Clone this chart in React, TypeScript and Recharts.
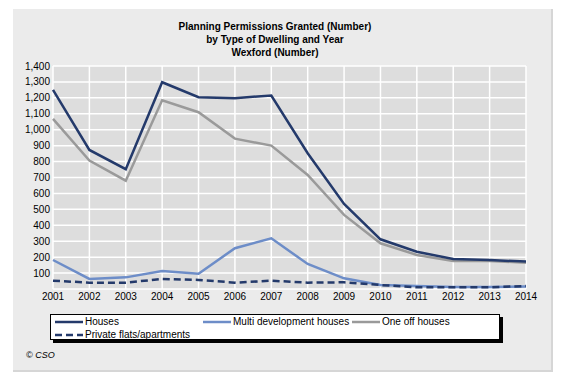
import React from "react";
import { LineChart, Line, XAxis, YAxis, CartesianGrid, Legend } from "recharts";

const years = [2001, 2002, 2003, 2004, 2005, 2006, 2007, 2008, 2009, 2010, 2011, 2012, 2013, 2014];
const houses = [1250, 873, 752, 1298, 1204, 1198, 1215, 852, 534, 312, 234, 188, 182, 172];
const multiDev = [182, 63, 73, 113, 96, 256, 318, 157, 67, 25, 19, 13, 13, 15];
const oneOff = [1068, 806, 680, 1185, 1110, 944, 900, 716, 465, 287, 214, 176, 176, 165];
const privateFlats = [52, 40, 40, 63, 57, 40, 52, 40, 42, 25, 11, 11, 11, 19];
const yTicks = [100, 200, 300, 400, 500, 600, 700, 800, 900, 1000, 1100, 1200, 1300, 1400];
const titleLines = [
  "Planning Permissions Granted (Number)",
  "by Type of Dwelling and Year",
  "Wexford (Number)",
];

const series = [
  { key: "houses", name: "Houses", color: "#243a6b", dash: undefined as string | undefined },
  { key: "multi", name: "Multi development houses", color: "#6d8dc8", dash: undefined },
  { key: "oneOff", name: "One off houses", color: "#9a9a9a", dash: undefined },
  { key: "private", name: "Private flats/apartments", color: "#243a6b", dash: "7 4" },
];

const data = years.map((y, i) => ({
  year: y,
  houses: houses[i],
  multi: multiDev[i],
  oneOff: oneOff[i],
  private: privateFlats[i],
}));

const FONT = "'Liberation Sans', Arial, sans-serif";

const legendPos: Record<string, { left: number; top: number }> = {
  houses: { left: 4, top: 1 },
  multi: { left: 152, top: 1 },
  oneOff: { left: 301, top: 1 },
  private: { left: 4, top: 14 },
};

const LegendBox = () => (
  <div
    style={{
      position: "relative",
      width: 450,
      height: 26,
      background: "#ffffff",
      border: "1px solid #000",
      boxShadow: "3px 3px 0 #000",
      boxSizing: "border-box",
      fontFamily: FONT,
      fontSize: 10,
      color: "#000",
      textAlign: "left",
    }}
  >
    {series.map((s) => (
      <div
        key={s.key}
        style={{
          position: "absolute",
          left: legendPos[s.key].left,
          top: legendPos[s.key].top,
          height: 12,
          display: "flex",
          alignItems: "center",
          whiteSpace: "nowrap",
        }}
      >
        <svg width={29} height={12} style={{ display: "block" }}>
          <line
            x1={0}
            y1={6}
            x2={28}
            y2={6}
            stroke={s.color}
            strokeWidth={2.5}
            strokeDasharray={s.dash}
          />
        </svg>
        <span style={{ marginLeft: 1, lineHeight: "12px" }}>{s.name}</span>
      </div>
    ))}
  </div>
);

export default function App() {
  return (
    <div
      style={{
        position: "absolute",
        left: 0,
        top: 0,
        width: 573,
        height: 388,
        background: "#ffffff",
        overflow: "hidden",
      }}
    >
      <div
        style={{
          position: "absolute",
          left: 13,
          top: 9,
          width: 540,
          height: 363,
          background: "#ebebeb",
          borderRight: "2px solid #d6d6d6",
          borderBottom: "2px solid #d6d6d6",
          boxSizing: "border-box",
        }}
      />
      <div
        style={{
          position: "absolute",
          left: 75,
          width: 400,
          top: 20,
          textAlign: "center",
          fontFamily: FONT,
          fontWeight: "bold",
          fontSize: 10,
          lineHeight: "13px",
          color: "#000",
        }}
      >
        {titleLines.map((t) => (
          <div key={t}>{t}</div>
        ))}
      </div>
      <div style={{ position: "absolute", left: 0, top: 0 }}>
        <LineChart
          width={573}
          height={388}
          data={data}
          margin={{ top: 66, right: 47, bottom: 69, left: 13 }}
        >
          <CartesianGrid fill="#dddddd" stroke="#ffffff" strokeWidth={1.5} />
          <XAxis
            dataKey="year"
            type="number"
            domain={[2001, 2014]}
            ticks={years}
            interval={0}
            height={30}
            axisLine={false}
            tickLine={false}
            tickSize={0}
            tickMargin={4}
            tick={{ fontSize: 10, fill: "#000", fontFamily: FONT }}
          />
          <YAxis
            type="number"
            domain={[0, 1400]}
            ticks={yTicks}
            interval={0}
            width={40}
            axisLine={false}
            tickLine={false}
            tickSize={0}
            tickMargin={3}
            tickFormatter={(v: number) => v.toLocaleString("en-US")}
            tick={{ fontSize: 10, fill: "#000", fontFamily: FONT }}
          />
          <Legend
            layout="horizontal"
            verticalAlign="middle"
            align="center"
            wrapperStyle={{ left: 50, top: 314, width: 455, height: 30 }}
            content={() => <LegendBox />}
          />
          <Line dataKey="multi" name="Multi development houses" stroke="#6d8dc8" strokeWidth={2.5} dot={false} isAnimationActive={false} />
          <Line dataKey="oneOff" name="One off houses" stroke="#9a9a9a" strokeWidth={2.5} dot={false} isAnimationActive={false} />
          <Line dataKey="houses" name="Houses" stroke="#243a6b" strokeWidth={2.5} dot={false} isAnimationActive={false} />
          <Line dataKey="private" name="Private flats/apartments" stroke="#243a6b" strokeWidth={2.5} strokeDasharray="7 4" dot={false} isAnimationActive={false} />
        </LineChart>
      </div>
      <div
        style={{
          position: "absolute",
          left: 26,
          top: 350,
          fontFamily: FONT,
          fontStyle: "italic",
          fontSize: 9,
          color: "#000",
        }}
      >
        © CSO
      </div>
    </div>
  );
}
